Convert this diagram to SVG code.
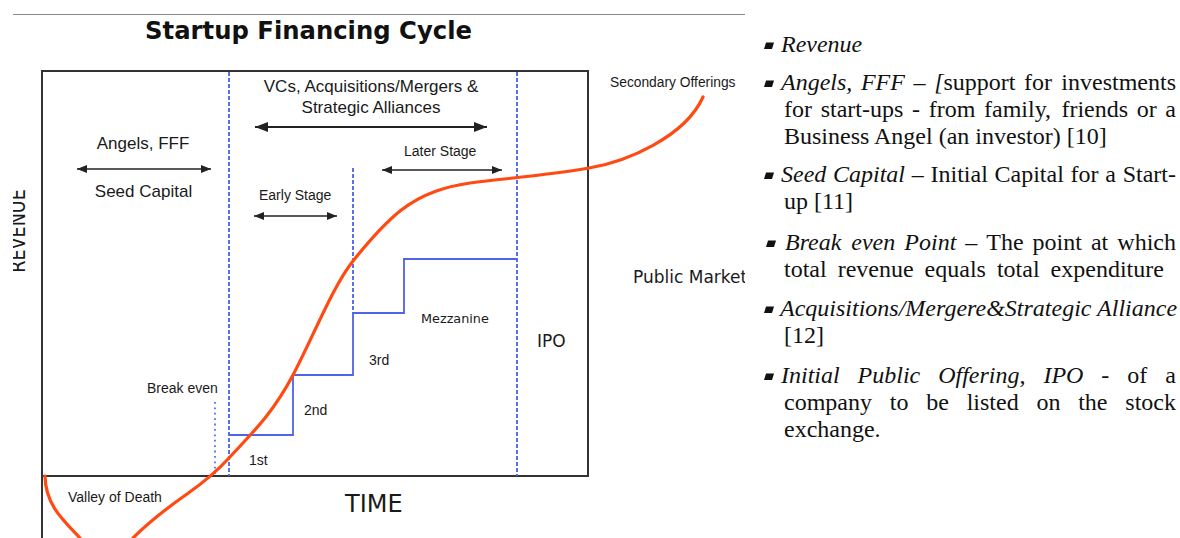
<svg xmlns="http://www.w3.org/2000/svg" width="1180" height="538" viewBox="0 0 1180 538">
  <style>
    .sans { font-family: "Liberation Sans", Arial, sans-serif; fill: #1a1a1a; }
    .dv { font-family: "DejaVu Sans", Verdana, sans-serif; fill: #1a1a1a; }
    .frame { fill: none; stroke: #333; stroke-width: 2; }
    .stage { fill: none; stroke: #4a62e6; stroke-width: 1.8; stroke-dasharray: 4 2; }
    .be { fill: none; stroke: #5a70e8; stroke-width: 1.8; stroke-dasharray: 1.8 3.6; }
    .steps { fill: none; stroke: #4f63e6; stroke-width: 1.8; }
    .curve { fill: none; stroke: #ff4a12; stroke-width: 3.2; stroke-linecap: round; }
    .arrow { fill: none; stroke: #222; stroke-width: 1.5; marker-start: url(#head); marker-end: url(#head); }
    .arrow-big { fill: none; stroke: #222; stroke-width: 2; marker-start: url(#head-big); marker-end: url(#head-big); }
    .serif { font-family: "Liberation Serif", "Times New Roman", serif; font-size: 24px; fill: #111; }
    .it { font-style: italic; }
  </style>
  <defs>
    <marker id="head" markerUnits="userSpaceOnUse" markerWidth="10" markerHeight="8" refX="10" refY="4" orient="auto-start-reverse">
      <path d="M0,0 L10,4 L0,8 z" fill="#222"/>
    </marker>
    <marker id="head-big" markerUnits="userSpaceOnUse" markerWidth="13" markerHeight="10" refX="13" refY="5" orient="auto-start-reverse">
      <path d="M0,0 L13,5 L0,10 z" fill="#222"/>
    </marker>
    <clipPath id="crop">
      <rect x="13" y="0" width="732" height="538"/>
    </clipPath>
    <polygon id="bullet" points="2,0 10,0 8,6.5 0,6.5" fill="#111"/>
  </defs>

  <rect width="1180" height="538" fill="#fff"/>

  <g clip-path="url(#crop)">
    <!-- page rule above the chart -->
    <line x1="13" y1="14.5" x2="746" y2="14.5" stroke="#8a8a8a" stroke-width="1"/>

    <g id="title">
      <text x="308.5" y="39" text-anchor="middle" style="font-family:'DejaVu Sans',Verdana,sans-serif;font-weight:bold;font-size:24.3px;fill:#111">Startup Financing Cycle</text>
    </g>

    <!-- axes and frame -->
    <g id="chart-frame">
      <rect class="frame" x="42" y="71" width="546" height="405"/>
      <line class="frame" x1="42" y1="476" x2="42" y2="540"/>
      <text class="dv" transform="translate(25,231) rotate(-90) scale(0.8,1)" text-anchor="middle" font-size="22">REVENUE</text>
      <text class="dv" x="345" y="512" font-size="24">TIME</text>
    </g>

    <!-- stage boundaries -->
    <g id="stage-lines">
      <line class="stage" x1="229" y1="72" x2="229" y2="476"/>
      <line class="stage" x1="353" y1="168" x2="353" y2="313"/>
      <line class="stage" x1="517" y1="72" x2="517" y2="476"/>
      <line class="be" x1="215" y1="402" x2="215" y2="476"/>
    </g>

    <!-- funding rounds -->
    <g id="funding-steps">
      <path class="steps" d="M229,435 H293 V375 H353 V313 H404 V259 H517"/>
      <text class="sans" x="249" y="465" font-size="14">1st</text>
      <text class="sans" x="304" y="415" font-size="14">2nd</text>
      <text class="sans" x="369" y="365" font-size="14">3rd</text>
      <text class="dv" x="421" y="323" font-size="12.8">Mezzanine</text>
    </g>

    <g id="connectors">
      <line class="arrow" x1="77" y1="169" x2="211" y2="169"/>
      <line class="arrow-big" x1="255" y1="127" x2="487" y2="127"/>
      <line class="arrow" x1="254" y1="216" x2="337" y2="216"/>
      <line class="arrow" x1="382" y1="170" x2="502" y2="170"/>
    </g>

    <g id="label-angels">
      <text class="sans" x="143" y="149" text-anchor="middle" font-size="17">Angels, FFF</text>
      <text class="sans" x="143.5" y="197" text-anchor="middle" font-size="17">Seed Capital</text>
    </g>
    <g id="label-vcs">
      <text class="sans" x="371" y="92" text-anchor="middle" font-size="17">VCs, Acquisitions/Mergers &amp;</text>
      <text class="sans" x="371" y="113" text-anchor="middle" font-size="17">Strategic Alliances</text>
    </g>
    <g id="label-early"><text class="sans" x="259" y="200" font-size="14">Early Stage</text></g>
    <g id="label-later"><text class="sans" x="404" y="156" font-size="14">Later Stage</text></g>
    <g id="label-break-even"><text class="sans" x="147" y="393" font-size="14">Break even</text></g>
    <g id="label-valley"><text class="sans" x="68" y="502" font-size="14">Valley of Death</text></g>
    <g id="label-ipo"><text class="dv" x="537" y="347" font-size="17">IPO</text></g>
    <g id="label-secondary"><text class="sans" x="610" y="87" font-size="13.8">Secondary Offerings</text></g>
    <g id="label-public"><text class="dv" x="633" y="283" font-size="17">Public Market</text></g>

    <!-- revenue over time -->
    <g id="revenue-curve">
      <path class="curve" d="M45,476 C45.5,505 63,520 80,538 C89,555 124,555 133,538 C151,520 169,506.6 187,494 C201,484.2 215,473.4 229,458 C250,435 272,415 293,375 C313,337 333,286 353,261 C369,241 384,224 400,211 C423,192.6 447,186.5 470,183 C510,178 549,175 589,168 C627,161.4 685,137 703,97"/>
    </g>
  </g>

  <!-- glossary column -->
  <g id="legend" class="serif">
    <g id="item-revenue">
      <use href="#bullet" x="764" y="42.5"/>
      <text x="781" y="52" class="it">Revenue</text>
    </g>
    <g id="item-angels">
      <use href="#bullet" x="764" y="80.5"/>
      <text y="90"><tspan x="781" class="it">Angels,</tspan><tspan x="860.9" class="it">FFF</tspan><tspan x="913.6" class="it">–</tspan><tspan x="934.2" class="it">[</tspan><tspan>support</tspan></text>
      <text x="1024.1" y="90">for</text>
      <text x="1176" y="90" text-anchor="end">investments</text>
      <text y="117"><tspan x="784">for</tspan><tspan x="820.7">start-ups</tspan><tspan x="912">-</tspan><tspan x="928.7">from</tspan><tspan x="984">family,</tspan><tspan x="1061.4">friends</tspan><tspan x="1136.7">or</tspan></text>
      <text x="1176" y="117" text-anchor="end">a</text>
      <text x="784" y="144">Business Angel (an investor) [10]</text>
    </g>
    <g id="item-seed">
      <use href="#bullet" x="764" y="172.5"/>
      <text y="182"><tspan x="781" class="it">Seed</tspan><tspan x="833" class="it">Capital</tspan><tspan x="911.8">–</tspan><tspan x="930.5">Initial</tspan><tspan x="994.5">Capital</tspan><tspan x="1070.6">for</tspan><tspan x="1105.3">a</tspan></text>
      <text x="1176" y="182" text-anchor="end">Start-</text>
      <text x="784" y="209">up [11]</text>
    </g>
    <g id="item-break-even">
      <use href="#bullet" x="766" y="240.5"/>
      <text y="250"><tspan x="785" class="it">Break</tspan><tspan x="851.3" class="it">even</tspan><tspan x="904.3" class="it">Point</tspan><tspan x="965.3">–</tspan><tspan x="986.3">The</tspan><tspan x="1032.6">point</tspan><tspan x="1090.9">at</tspan></text>
      <text x="1176" y="250" text-anchor="end">which</text>
      <text x="784" y="277" word-spacing="5">total revenue equals total expenditure</text>
    </g>
    <g id="item-acquisitions">
      <use href="#bullet" x="764" y="306.5"/>
      <text x="780" y="316" class="it">Acquisitions/Mergere&amp;Strategic Alliance</text>
      <text x="784" y="343">[12]</text>
    </g>
    <g id="item-ipo">
      <use href="#bullet" x="764" y="373.5"/>
      <text y="383"><tspan x="781" class="it">Initial</tspan><tspan x="857.6" class="it">Public</tspan><tspan x="938.2" class="it">Offering,</tspan><tspan x="1043.4" class="it">IPO</tspan><tspan x="1101.3">-</tspan><tspan x="1127.2">of</tspan></text>
      <text x="1176" y="383" text-anchor="end">a</text>
      <text y="410"><tspan x="784">company</tspan><tspan x="889.8">to</tspan><tspan x="926.2">be</tspan><tspan x="966.7">listed</tspan><tspan x="1036.5">on</tspan><tspan x="1078.2">the</tspan></text>
      <text x="1176" y="410" text-anchor="end">stock</text>
      <text x="784" y="437">exchange.</text>
    </g>
  </g>
</svg>
